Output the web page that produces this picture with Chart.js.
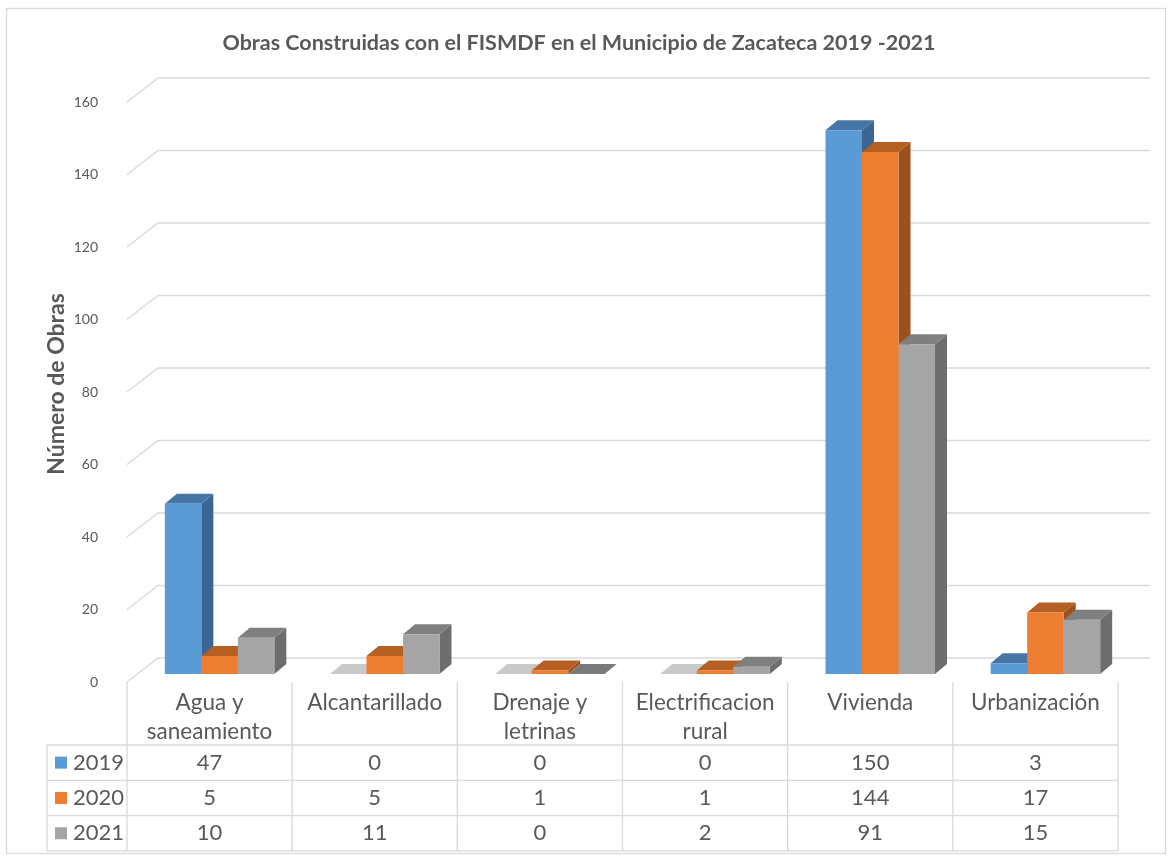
<!DOCTYPE html>
<html><head><meta charset="utf-8">
<script src="https://cdn.jsdelivr.net/npm/chart.js@4.4.1/dist/chart.umd.min.js"></script>
<style>html,body{margin:0;padding:0;background:#fff;}canvas{display:block;}</style>
</head><body>
<canvas id="c" width="1171" height="856"></canvas>
<script>
// ---- data ----
const categories = [['Agua y','saneamiento'],['Alcantarillado'],['Drenaje y','letrinas'],['Electrificacion','rural'],['Vivienda'],['Urbanización']];
const seriesNames = ['2019','2020','2021'];
const values2019 = [47,0,0,0,150,3];
const values2020 = [5,5,1,1,144,17];
const values2021 = [10,11,0,2,91,15];
const yMin = 0, yMax = 160, yStep = 20;
const chartTitle = 'Obras Construidas con el FISMDF en el Municipio de Zacateca 2019 -2021';
const yTitle = 'Número de Obras';

// ---- styles ----
const FRONT = ['#5b9bd5','#ed7d31','#a5a5a5'];
const TOP = ['#4676a6','#b65f22','#7f7f7f'];
const SIDE = ['#3b6592','#9d501b','#6d6d6d'];
const ZERO_TOP = ['#c9c9c9','#b65f22','#7a7a7a'];
const TEXT = '#595959';
const LINE = '#d9d9d9';
const FONT = 'Lato, "Liberation Sans", sans-serif';
const DEPTH = {dx: 12, dy: -10};   // bar depth
const SHIFT = {dx: -10, dy: 8};    // bar plane -> front plane
const WALL = {dx: 31, dy: -24};    // front plane -> back wall

const threeD = {
  id: 'threeD',
  beforeDatasetsDraw(chart) {
    const ctx = chart.ctx, ys = chart.scales.y, area = chart.chartArea;
    const fl = area.left + SHIFT.dx, fr = area.right + SHIFT.dx;
    ctx.save();
    ctx.strokeStyle = LINE; ctx.lineWidth = 1.3;
    ys.ticks.forEach(t => {
      const yb = ys.getPixelForValue(t.value);
      const yf = yb + SHIFT.dy;
      ctx.beginPath();
      ctx.moveTo(fl, yf);
      ctx.lineTo(fl + WALL.dx, yf + WALL.dy);
      ctx.lineTo(fr + WALL.dx + 1, yf + WALL.dy);
      ctx.stroke();
    });
    const metas = chart.getSortedVisibleDatasetMetas().slice().sort((a,b)=>a.index-b.index);
    // sides
    metas.forEach(m => {
      m.data.forEach((el) => {
        const r = el.x + el.width/2, top = el.y, base = el.base;
        if (base - top < 0.5) return;
        ctx.fillStyle = SIDE[m.index];
        ctx.beginPath();
        ctx.moveTo(r, top); ctx.lineTo(r + DEPTH.dx, top + DEPTH.dy);
        ctx.lineTo(r + DEPTH.dx, base + DEPTH.dy); ctx.lineTo(r, base);
        ctx.closePath(); ctx.fill();
      });
    });
    // tops
    metas.forEach(m => {
      m.data.forEach((el, i) => {
        const l = el.x - el.width/2, r = el.x + el.width/2, top = el.y;
        const v = chart.data.datasets[m.index].data[i];
        ctx.fillStyle = v === 0 ? ZERO_TOP[m.index] : TOP[m.index];
        ctx.beginPath();
        ctx.moveTo(l, top); ctx.lineTo(r, top);
        ctx.lineTo(r + DEPTH.dx, top + DEPTH.dy); ctx.lineTo(l + DEPTH.dx, top + DEPTH.dy);
        ctx.closePath(); ctx.fill();
      });
    });
    ctx.restore();
  },
  afterDraw(chart) {
    const ctx = chart.ctx, xs = chart.scales.x, ys = chart.scales.y, area = chart.chartArea;
    const fr = area.right + SHIFT.dx;
    const floorY = ys.getPixelForValue(0) + SHIFT.dy;
    const colW = xs.getPixelForValue(1) - xs.getPixelForValue(0);
    const tableLeft = 47, rowTop = 745, rowH = 35.3;
    const tableBottom = rowTop + rowH * 3;
    ctx.save();
    ctx.strokeStyle = LINE; ctx.lineWidth = 1.3;
    for (let i = 0; i <= categories.length; i++) {
      const x = (i < categories.length ? xs.getPixelForValue(i) - colW/2 : xs.getPixelForValue(i-1) + colW/2) + SHIFT.dx;
      ctx.beginPath(); ctx.moveTo(x, floorY); ctx.lineTo(x, tableBottom); ctx.stroke();
    }
    ctx.beginPath(); ctx.moveTo(tableLeft, rowTop); ctx.lineTo(tableLeft, tableBottom); ctx.stroke();
    for (let k = 0; k <= 3; k++) {
      const y = rowTop + rowH * k;
      ctx.beginPath(); ctx.moveTo(tableLeft, y); ctx.lineTo(fr, y); ctx.stroke();
    }
    // category labels
    ctx.fillStyle = TEXT; ctx.textAlign = 'center'; ctx.textBaseline = 'middle';
    ctx.font = '22.5px ' + FONT;
    categories.forEach((lines, i) => {
      const cx = xs.getPixelForValue(i) + SHIFT.dx;
      lines.forEach((s, j) => ctx.fillText(s, cx, 703 + j * 28.5));
    });
    // values + legend keys
    ctx.font = '22px ' + FONT;
    chart.data.datasets.forEach((ds, k) => {
      const cy = rowTop + rowH * (k + 0.5);
      ctx.textAlign = 'center';
      ds.data.forEach((v, i) => {
        ctx.fillText(String(v), xs.getPixelForValue(i) + SHIFT.dx, cy);
      });
      ctx.fillStyle = FRONT[k];
      ctx.fillRect(55, cy - 6, 12, 12);
      ctx.fillStyle = TEXT;
      ctx.textAlign = 'left';
      ctx.fillText(ds.label, 73, cy);
    });
    ctx.strokeStyle = LINE; ctx.lineWidth = 1.3;
    ctx.strokeRect(6.5, 8.5, 1159, 845);
    ctx.restore();
  }
};

const seriesValues = [values2019, values2020, values2021];
new Chart(document.getElementById('c'), {
  type: 'bar',
  data: {
    labels: categories,
    datasets: seriesNames.map((n, k) => ({
      label: n, data: seriesValues[k], backgroundColor: FRONT[k], borderWidth: 0,
      categoryPercentage: 0.663, barPercentage: 1.0
    }))
  },
  options: {
    responsive: false, animation: false, devicePixelRatio: 1,
    layout: {padding: {left: 30, right: 43, top: 30, bottom: 182}},
    plugins: {
      legend: {display: false}, tooltip: {enabled: false},
      title: {display: true, text: chartTitle, color: TEXT,
        font: {family: FONT, size: 21.5, weight: 'bold'}, padding: {top: 0, bottom: 38.2}}
    },
    scales: {
      x: {display: false},
      y: {
        min: yMin, max: yMax,
        afterFit: s => { s.width = 107; },
        grid: {display: false, drawTicks: false}, border: {display: false},
        ticks: {stepSize: yStep, color: TEXT, font: {family: FONT, size: 14}, padding: 39, labelOffset: 8},
        title: {display: true, text: yTitle, color: TEXT, font: {family: FONT, size: 23, weight: 'bold'}, padding: {top: 13, bottom: 0}}
      }
    }
  },
  plugins: [threeD]
});
</script>
</body></html>
